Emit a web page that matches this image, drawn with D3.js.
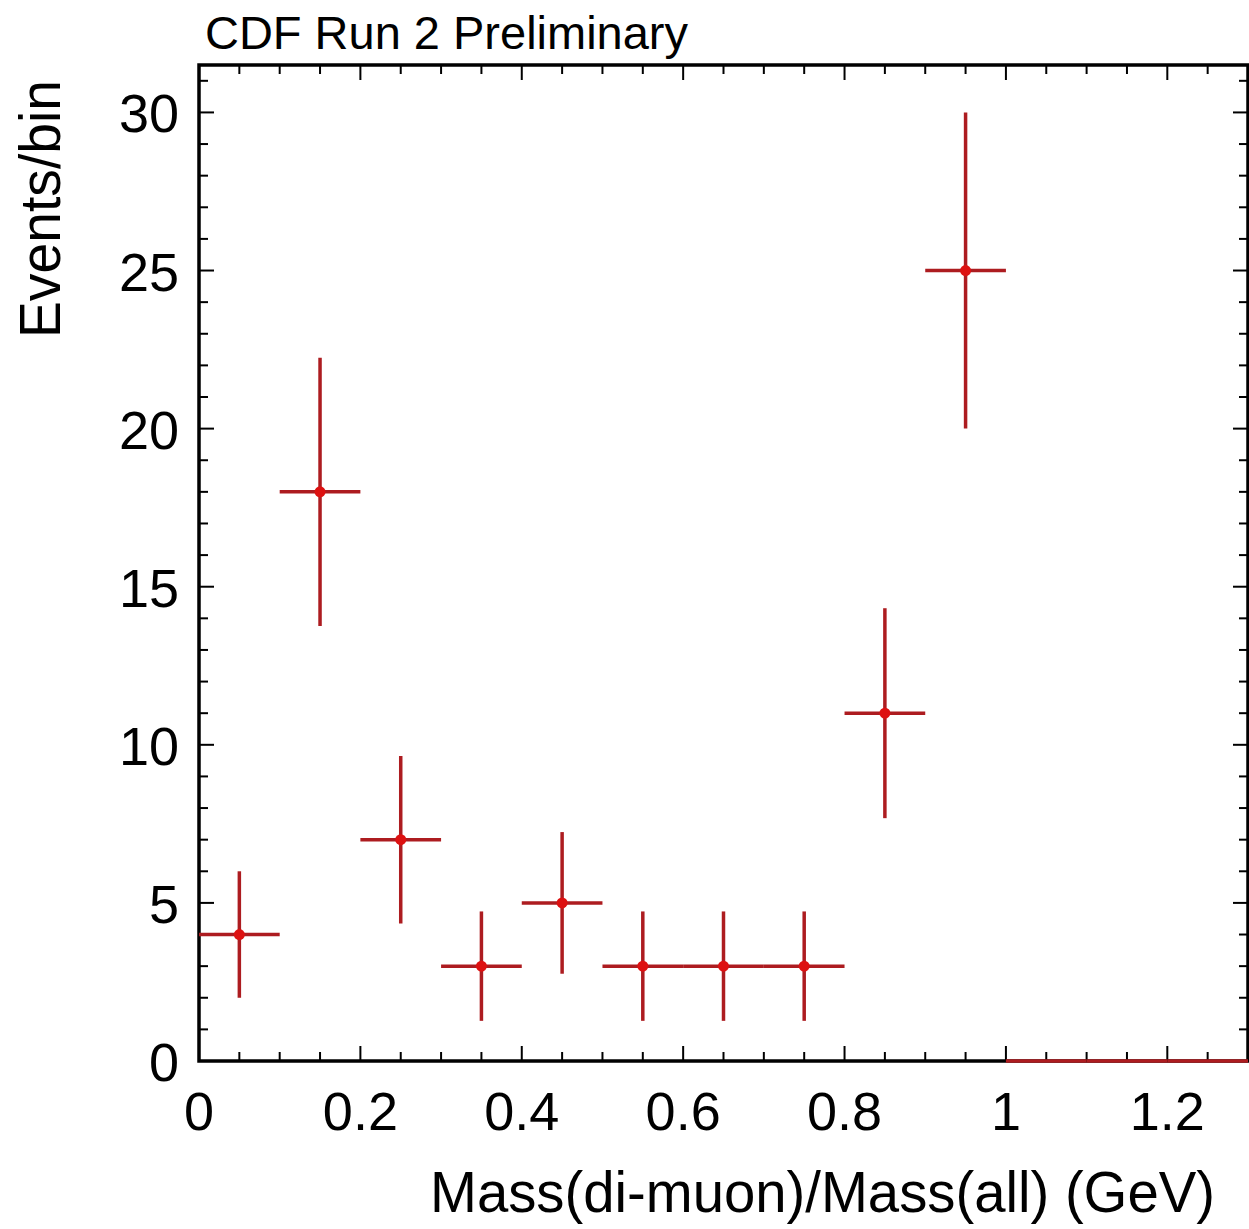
<!DOCTYPE html>
<html>
<head>
<meta charset="utf-8">
<script src="https://cdn.jsdelivr.net/npm/d3@7"></script>
<style>
  html, body { margin: 0; padding: 0; background: #fff; }
  svg { display: block; }
</style>
</head>
<body>
<svg id="chart" width="1249" height="1229"></svg>
<script>
// ── Data ──
const binCenters = [0.05, 0.15, 0.25, 0.35, 0.45, 0.55, 0.65, 0.75, 0.85, 0.95, 1.05, 1.15, 1.25];
const binCounts  = [4, 18, 7, 3, 5, 3, 3, 3, 11, 25, 0, 0, 0];
const binErrors  = [2, 4.24, 2.65, 1.73, 2.24, 1.73, 1.73, 1.73, 3.32, 5, 0, 0, 0];
const binHalfWidth = 0.05;
const xTickLabels = [0, 0.2, 0.4, 0.6, 0.8, 1, 1.2];
const yTickLabels = [0, 5, 10, 15, 20, 25, 30];

const W = 1249, H = 1229;
const m = { l: 199, r: 1248, t: 65, b: 1061 };
const FONT = '"Liberation Sans", Arial, Helvetica, sans-serif';
const BAR = '#ad1c20', DOT = '#dd1111';

const svg = d3.select('#chart');
svg.append('rect').attr('width', W).attr('height', H).attr('fill', '#fff');

const x = d3.scaleLinear().domain([0, 1.3]).range([m.l, m.r]);
const y = d3.scaleLinear().domain([0, 31.5]).range([m.b, m.t]);

const pts = binCenters.map((c, i) => ({ c, v: binCounts[i], e: binErrors[i] }));

// ── Ticks on all four sides (inward) ──
const xMinor = d3.range(0, 1.3001, 0.05).map(v => +v.toFixed(2));
const yMinor = d3.range(0, 31.5, 1);
const isMajorX = v => Math.abs(v / 0.2 - Math.round(v / 0.2)) < 1e-6;
const ticks = svg.append('g').attr('stroke', '#000').attr('stroke-width', 2);
xMinor.forEach(v => {
  const len = isMajorX(v) ? 15 : 9;
  ticks.append('line').attr('x1', x(v)).attr('x2', x(v)).attr('y1', m.b).attr('y2', m.b - len);
  ticks.append('line').attr('x1', x(v)).attr('x2', x(v)).attr('y1', m.t).attr('y2', m.t + len);
});
yMinor.forEach(v => {
  const len = v % 5 === 0 ? 15 : 9;
  ticks.append('line').attr('y1', y(v)).attr('y2', y(v)).attr('x1', m.l).attr('x2', m.l + len);
  ticks.append('line').attr('y1', y(v)).attr('y2', y(v)).attr('x1', m.r).attr('x2', m.r - len);
});

// ── Frame ──
svg.append('rect')
  .attr('x', m.l).attr('y', m.t).attr('width', m.r - m.l).attr('height', m.b - m.t)
  .attr('fill', 'none').attr('stroke', '#000').attr('stroke-width', 3.5);

// ── Tick labels ──
svg.append('g').selectAll('text').data(xTickLabels).enter().append('text')
  .attr('x', d => x(d)).attr('y', 1130)
  .attr('text-anchor', 'middle')
  .attr('font-family', FONT).attr('font-size', 54)
  .text(d => d);

svg.append('g').selectAll('text').data(yTickLabels).enter().append('text')
  .attr('x', 179).attr('y', d => y(d) + 20)
  .attr('text-anchor', 'end')
  .attr('font-family', FONT).attr('font-size', 54)
  .text(d => d);

// ── Error bars ──
const g = svg.append('g');
g.selectAll('line.h').data(pts).enter().append('line')
  .attr('x1', d => x(d.c - binHalfWidth)).attr('x2', d => x(d.c + binHalfWidth))
  .attr('y1', d => y(d.v)).attr('y2', d => y(d.v))
  .attr('stroke', BAR).attr('stroke-width', 3.5);
g.selectAll('line.v').data(pts.filter(d => d.e > 0)).enter().append('line')
  .attr('x1', d => x(d.c)).attr('x2', d => x(d.c))
  .attr('y1', d => y(d.v - d.e)).attr('y2', d => y(d.v + d.e))
  .attr('stroke', BAR).attr('stroke-width', 3.5);
g.selectAll('circle').data(pts.filter(d => d.v > 0)).enter().append('circle')
  .attr('cx', d => x(d.c)).attr('cy', d => y(d.v)).attr('r', 5.5)
  .attr('fill', DOT);

// ── Titles ──
svg.append('text')
  .attr('x', 205).attr('y', 49)
  .attr('font-family', FONT).attr('font-size', 46)
  .attr('textLength', 483).attr('lengthAdjust', 'spacingAndGlyphs')
  .text('CDF Run 2 Preliminary');

svg.append('text')
  .attr('x', 430).attr('y', 1212)
  .attr('font-family', FONT).attr('font-size', 58)
  .attr('textLength', 785).attr('lengthAdjust', 'spacingAndGlyphs')
  .text('Mass(di-muon)/Mass(all) (GeV)');

svg.append('text')
  .attr('transform', 'translate(60,338) rotate(-90)')
  .attr('font-family', FONT).attr('font-size', 58)
  .attr('textLength', 258).attr('lengthAdjust', 'spacingAndGlyphs')
  .text('Events/bin');
</script>
</body>
</html>
